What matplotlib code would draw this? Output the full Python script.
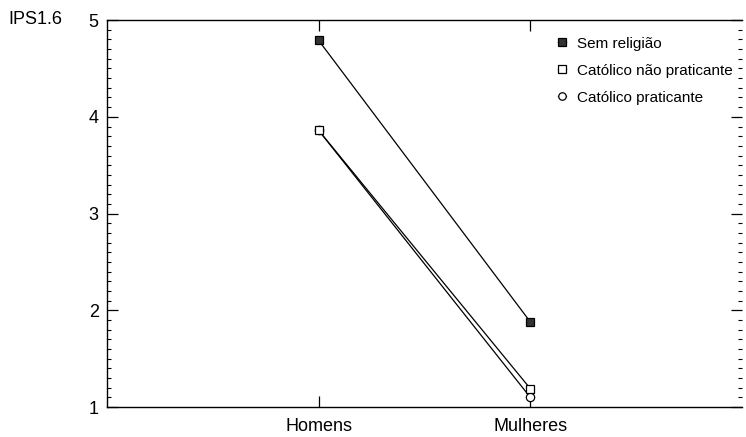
import numpy as np
import matplotlib.pyplot as plt
from matplotlib.ticker import MultipleLocator

plt.rcParams['font.family'] = ['Liberation Sans', 'DejaVu Sans']

# Dados
grupos = ['Homens', 'Mulheres']
sem_religiao = [4.79, 1.88]
catolico_nao_praticante = [3.86, 1.19]
catolico_praticante = [3.86, 1.10]

x = np.arange(1, len(grupos) + 1)

fig = plt.figure(figsize=(7.46, 4.37), dpi=100)
ax = fig.add_axes([0.1434, 0.0686, 0.8512, 0.8854])

ax.plot(x, catolico_praticante, color='black', lw=0.9, marker='o', ms=6,
        mfc='white', mec='black', mew=0.9, label='Católico praticante', zorder=3)
ax.plot(x, catolico_nao_praticante, color='black', lw=0.9, marker='s', ms=6,
        mfc='white', mec='black', mew=0.9, label='Católico não praticante', zorder=4)
ax.plot(x, sem_religiao, color='black', lw=0.9, marker='s', ms=6,
        mfc='#333333', mec='black', mew=0.9, label='Sem religião', zorder=5)

ax.set_xlim(0, 3)
ax.set_ylim(1, 5)
ax.set_xticks(x)
ax.set_xticklabels(grupos, fontsize=13)
ax.set_yticks([1, 2, 3, 4, 5])
ax.tick_params(axis='y', labelsize=13, direction='in', length=8, width=0.9,
               right=True, pad=6)
ax.yaxis.set_minor_locator(MultipleLocator(0.1))
ax.tick_params(axis='y', which='minor', direction='in', length=3, width=0.8, right=True)
ax.tick_params(axis='x', direction='in', length=8, width=0.9, top=True, pad=8)

ax.spines['right'].set_visible(False)
for s in ['left', 'bottom', 'top']:
    ax.spines[s].set_linewidth(1.0)

handles, labels = ax.get_legend_handles_labels()
ax.legend(handles[::-1], labels[::-1], loc='upper right', frameon=False,
          fontsize=11, handlelength=0.5, handletextpad=0.7, labelspacing=0.85,
          markerscale=0.9, bbox_to_anchor=(1.002, 0.985), borderaxespad=0.3)

fig.text(0.011, 0.955, 'IPS1.6', fontsize=13, va='center', ha='left')

fig.savefig('out.png', dpi=100)
